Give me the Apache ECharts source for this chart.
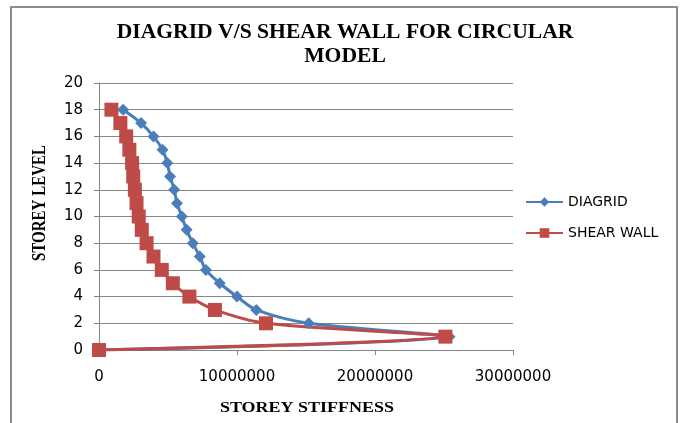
<!DOCTYPE html>
<html>
<head>
<meta charset="utf-8">
<script src="https://cdn.jsdelivr.net/npm/echarts@6/dist/echarts.min.js"></script>
<style>
html,body{margin:0;padding:0;background:#fff;}
#chart{width:681px;height:423px;}
</style>
</head>
<body>
<div id="chart"></div>
<script>
var titleLines = ['DIAGRID V/S SHEAR WALL FOR CIRCULAR', 'MODEL'];
var xAxisTitle = 'STOREY STIFFNESS';
var yAxisTitle = 'STOREY LEVEL';
var seriesNames = ['DIAGRID', 'SHEAR WALL'];

var storeyLevels = [0, 1, 2, 3, 4, 5, 6, 7, 8, 9, 10, 11, 12, 13, 14, 15, 16, 17, 18];
var diagridStiffness = [0, 25400000, 15200000, 11400000, 10000000, 8750000, 7750000, 7300000, 6800000, 6350000, 6000000, 5650000, 5450000, 5150000, 4950000, 4600000, 3950000, 3050000, 1750000];
var shearWallStiffness = [0, 25100000, 12100000, 8400000, 6550000, 5350000, 4550000, 3950000, 3450000, 3100000, 2880000, 2720000, 2600000, 2480000, 2400000, 2200000, 1970000, 1550000, 900000];

var xTicks = {min: 0, max: 30000000, interval: 10000000};
var yTicks = {min: 0, max: 20, interval: 2};

function pairs(xs, ys) { return xs.map(function (x, i) { return [x, ys[i]]; }); }

var chart = echarts.init(document.getElementById('chart'));
var gridColor = '#868686';
var labelFont = 'DejaVu Sans';
chart.setOption({
  animation: false,
  backgroundColor: '#ffffff',
  grid: {left: 99, top: 83, right: 168, bottom: 73},
  graphic: [
    {type: 'rect', shape: {x: 11, y: 7, width: 666, height: 440}, style: {fill: 'none', stroke: '#8c8c8c', lineWidth: 2}, silent: true},
    {type: 'text', x: 345, y: 33, scaleX: 1.08, style: {text: titleLines[0], font: 'bold 20px "Liberation Serif"', fill: '#000', align: 'center', verticalAlign: 'middle'}},
    {type: 'text', x: 345, y: 57, scaleX: 1.08, style: {text: titleLines[1], font: 'bold 20px "Liberation Serif"', fill: '#000', align: 'center', verticalAlign: 'middle'}},
    {type: 'text', x: 307, y: 408, scaleX: 1.2, style: {text: xAxisTitle, font: 'bold 15px "Liberation Serif"', fill: '#000', align: 'center', verticalAlign: 'middle'}},
    {type: 'text', x: 40, y: 203, rotation: Math.PI / 2, scaleY: 1.2, style: {text: yAxisTitle, font: 'bold 15px "Liberation Serif"', fill: '#000', align: 'center', verticalAlign: 'middle'}}
  ],
  legend: {
    orient: 'vertical', left: 520, top: 190, itemGap: 17, itemWidth: 37, itemHeight: 12,
    textStyle: {fontFamily: labelFont, fontSize: 14, color: '#000'},
    data: seriesNames
  },
  xAxis: {
    type: 'value', min: xTicks.min, max: xTicks.max, interval: xTicks.interval,
    axisLine: {show: true, lineStyle: {color: gridColor, width: 1}},
    axisTick: {show: true, inside: false, length: 5, lineStyle: {color: gridColor}},
    splitLine: {show: false},
    axisLabel: {margin: 20, fontFamily: labelFont, fontSize: 15, color: '#000', formatter: function (v) { return String(v); }}
  },
  yAxis: {
    type: 'value', min: yTicks.min, max: yTicks.max, interval: yTicks.interval,
    axisLine: {show: true, lineStyle: {color: gridColor, width: 1}},
    axisTick: {show: true, inside: false, length: 5, lineStyle: {color: gridColor}},
    splitLine: {show: true, lineStyle: {color: gridColor, width: 1}},
    axisLabel: {margin: 16, fontFamily: labelFont, fontSize: 15, color: '#000'}
  },
  series: [
    {
      name: seriesNames[0], type: 'line', smooth: 0.3,
      data: pairs(diagridStiffness, storeyLevels),
      symbol: 'diamond', symbolSize: 12,
      itemStyle: {color: '#4a7ebb'},
      lineStyle: {color: '#4a7ebb', width: 3}
    },
    {
      name: seriesNames[1], type: 'line', smooth: 0.3,
      data: pairs(shearWallStiffness, storeyLevels),
      symbol: 'rect', symbolSize: 14,
      itemStyle: {color: '#be4b48'},
      lineStyle: {color: '#be4b48', width: 3}
    }
  ]
});
</script>
</body>
</html>
